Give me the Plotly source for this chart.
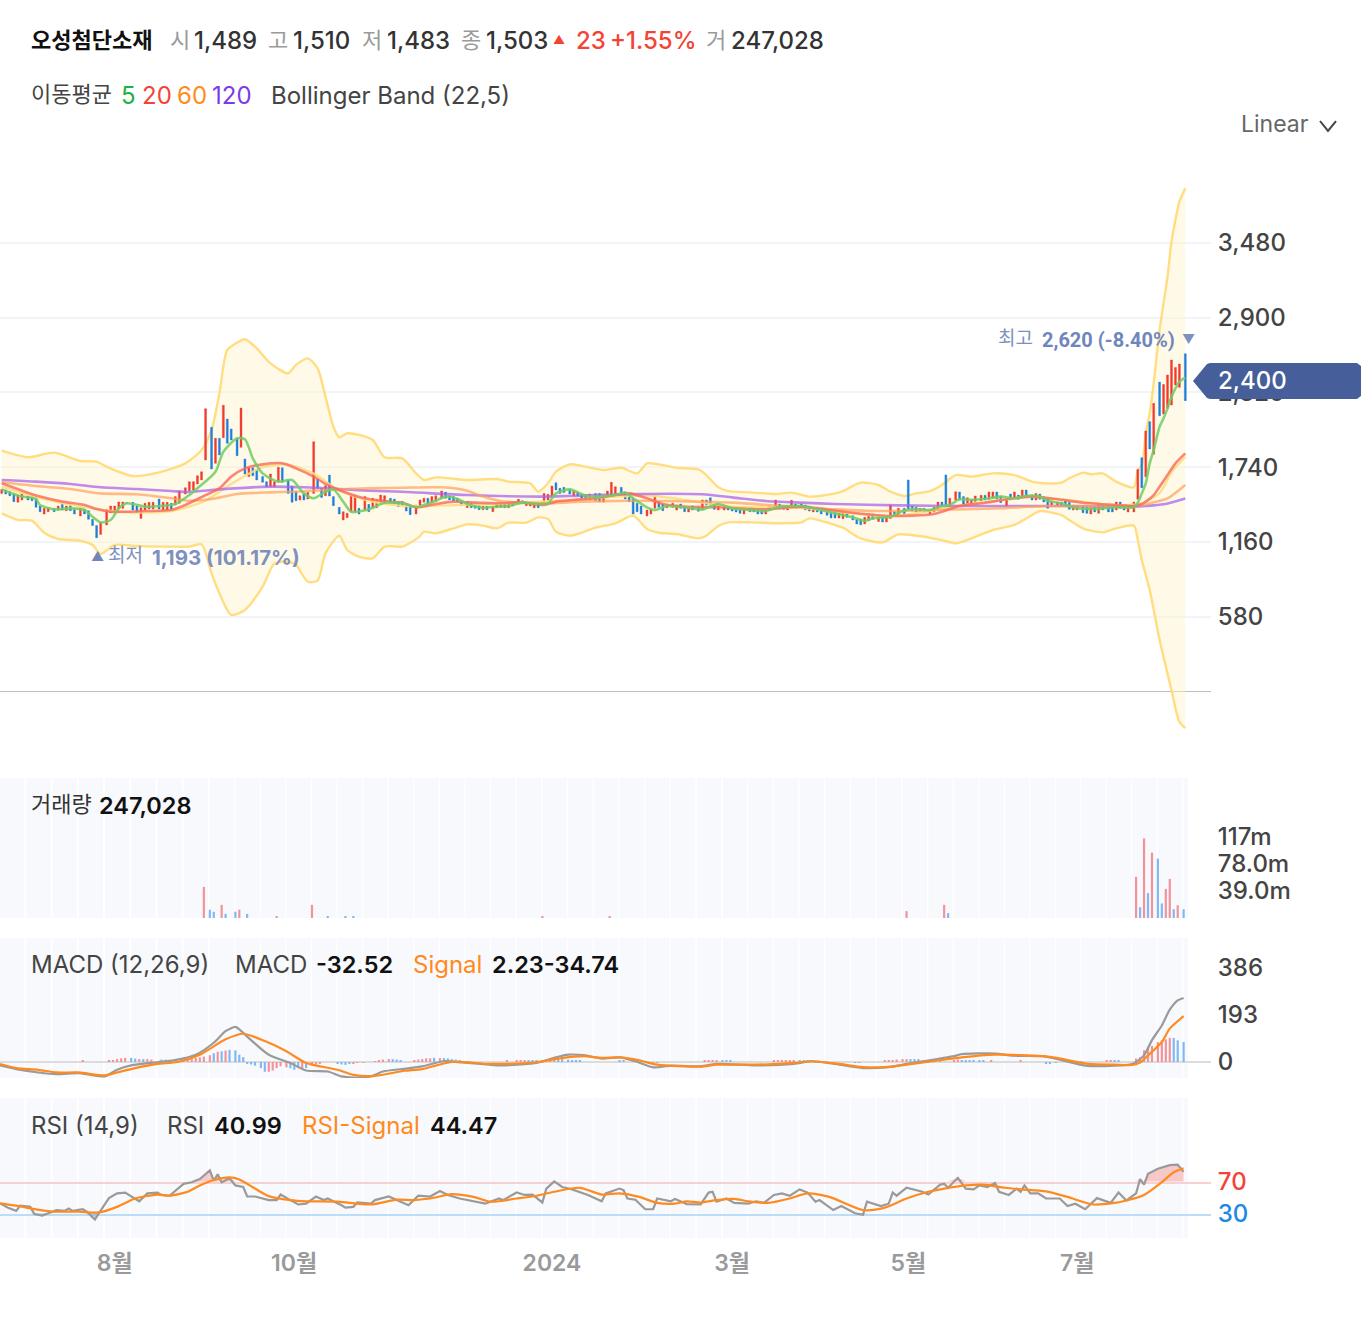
import numpy as np
import plotly.graph_objects as go

W, H = 1366, 1324
PLOT_R = 1211
FONT = "Inter, 'Noto Sans CJK KR', sans-serif"

# ---------- candles (price) ----------
opens = [1537,1563,1550,1532,1468,1486, 1519,1519,1499,1439,1377,1395, 1421,1408,1452,1403,1444,1413,
 1362,1413,1403,1336,1287,1219, 1292,1387,1395,1416,1421,1465, 1468,1439,1343,1408,1416,1416,
 1493,1408,1408,1460,1447,1460, 1532,1558,1563,1610,1641,1796, 2049,1770,1964,1969,2114,2036,
 1964,1894,1804,1667,1736,1718, 1667,1628,1589,1589,1628,1736, 1641,1594,1550,1486,1537,1493,
 1537,1648,1576,1519,1679,1512, 1429,1331,1349,1395,1395,1421, 1408,1452,1426,1426,1460,1460,
 1499,1493,1473,1475,1447,1429, 1377,1442,1468,1499,1465,1475, 1499,1548,1519,1512,1499,1480,
 1426,1460,1455,1442,1411,1437, 1395,1426,1429,1455,1426,1470, 1455,1480,1442,1439,1426,1465,
 1455,1486,1512,1620,1576,1584, 1568,1519,1548,1532,1527,1486, 1537,1537,1470,1512,1524,1537,
 1584,1548,1512,1499,1460,1439, 1362,1377,1421,1473,1455,1426, 1429,1408,1455,1429,1393,1439,
 1429,1408,1486,1504,1447,1408, 1408,1429,1421,1418,1408,1377, 1421,1418,1408,1408,1377,1408,
 1421,1455,1442,1408,1439,1455, 1455,1447,1439,1393,1429,1408, 1403,1387,1393,1346,1341,1377,
 1364,1336,1336,1300,1325,1377, 1318,1351,1315,1343,1395,1369, 1421,1641,1439,1429,1395,1421,
 1377,1393,1408,1470,1680,1434, 1486,1548,1512,1460,1455,1475, 1480,1522,1491,1501,1548,1517,
 1439,1532,1499,1524,1512,1563, 1524,1486,1532,1512,1499,1445, 1445,1470,1480,1468,1408,1408,
 1439,1429,1377,1429,1382,1447, 1426,1429,1408,1470,1439,1393, 1393,
 1491,1814,1666,2093,1840,2400,2152,2196,2222,2377,2359,2620]
closes = [1568,1532,1519,1473,1524,1537, 1486,1480,1429,1395,1421,1426, 1395,1439,1408,1439,1403,1377,
 1421,1377,1336,1287,1193,1312, 1413,1439,1439,1470,1470,1462, 1408,1387,1426,1460,1468,1468,
 1416,1468,1468,1416,1512,1555, 1581,1628,1628,1674,1705,2194, 1726,1964,1835,2220,1925,1951,
 1829,2199,1687,1736,1674,1641, 1623,1589,1687,1628,1739,1623, 1537,1468,1480,1519,1486,1545,
 1938,1576,1506,1597,1517,1442, 1377,1395,1382,1524,1524,1377, 1512,1395,1499,1486,1524,1519,
 1460,1455,1434,1440,1400,1372, 1447,1486,1499,1455,1512,1519, 1555,1499,1486,1478,1473,1442,
 1473,1426,1421,1411,1437,1411, 1434,1455,1455,1426,1455,1439, 1491,1455,1473,1468,1465,1426,
 1537,1530,1594,1563,1537,1543, 1532,1555,1517,1501,1486,1532, 1480,1473,1522,1555,1623,1589,
 1537,1493,1473,1377,1395,1377, 1408,1416,1519,1429,1403,1447, 1460,1447,1421,1395,1421,1408,
 1398,1486,1447,1447,1413,1455, 1429,1408,1400,1393,1382,1408, 1395,1393,1377,1377,1408,1439,
 1486,1418,1413,1437,1483,1421, 1434,1408,1400,1429,1393,1377, 1367,1346,1346,1382,1382,1351,
 1331,1300,1294,1351,1377,1336, 1351,1315,1351,1447,1364,1421, 1377,1416,1400,1393,1421,1390,
 1408,1429,1470,1434,1429,1499, 1550,1486,1455,1504,1491,1517, 1522,1486,1548,1548,1496,1465,
 1496,1486,1548,1491,1563,1504, 1486,1537,1491,1470,1421,1473, 1470,1439,1439,1413,1444,1439,
 1387,1382,1426,1393,1460,1408, 1393,1393,1470,1421,1408,1447, 1470,
 1723,1581,2021,1881,2235,2139,2382,2455,2571,2514,2540,2256]

# ---------- overlays: index of each reading, and the reading ----------
bbu_i = [0,6,12,18,22,24,30,36,42,46,48,50,52,54,56,59,62,66,68,71,73,75,77,78,80,83,86,89,93,96,98,101,108,115,118,123,125,127,129,132,136,140,144,148,150,153,157,162,164,167,169,174,180,184,188,191,194,196,200,204,207,210,213,216,219,222,226,231,236,240,243,247,249,252,254,257,260,264,265,266,267,268,269,270,271,272,273,274,275,276]
bbu = [1868,1817,1853,1788,1783,1744,1672,1700,1770,1873,2028,2313,2649,2706,2732,2662,2545,2468,2533,2584,2507,2287,2054,1972,2003,1990,1951,1817,1809,1692,1641,1661,1641,1648,1628,1615,1550,1615,1705,1762,1744,1718,1736,1692,1770,1762,1736,1723,1679,1584,1555,1545,1532,1543,1512,1519,1537,1555,1620,1602,1550,1517,1537,1555,1602,1679,1667,1692,1679,1628,1615,1620,1654,1698,1685,1692,1628,1584,1718,1757,2002,2158,2390,2804,3011,3217,3489,3657,3799,3902]
bbl_i = [0,4,7,10,13,18,21,23,26,31,36,40,43,46,48,50,53,56,60,63,66,68,71,73,75,78,80,83,86,89,93,94,97,98,101,105,108,112,115,118,122,125,127,129,132,135,138,143,147,150,153,157,162,164,167,169,174,181,186,188,194,196,200,205,209,215,219,222,226,231,236,240,242,247,249,252,254,257,260,264,265,266,268,270,273,275,276]
bbl = [1382,1331,1325,1232,1183,1170,1137,1067,1137,1129,1124,1124,1124,1142,917,762,594,633,814,994,1007,982,852,860,1072,1209,1098,1046,1033,1124,1124,1137,1206,1240,1227,1266,1297,1287,1266,1310,1310,1351,1338,1240,1209,1232,1271,1305,1364,1261,1232,1222,1188,1209,1284,1312,1312,1305,1312,1343,1292,1271,1188,1157,1219,1201,1175,1150,1188,1253,1292,1369,1400,1369,1331,1266,1248,1235,1266,1287,1175,1020,788,401,13,-235,-282]
mid_i = [0,9,19,29,39,47,53,60,66,72,78,85,93,110,130,150,170,186,207,223,240,260,266,270,273,276]
mid = [1590,1500,1430,1390,1400,1480,1610,1740,1760,1690,1560,1480,1440,1450,1480,1520,1435,1425,1360,1440,1510,1445,1460,1540,1700,1821]
ma5_i = [0,3,5,8,9,12,16,19,21,23,25,27,29,33,36,39,40,43,45,49,51,54,56,58,60,64,67,70,72,75,77,79,81,85,89,93,94,96,98,101,103,106,108,112,115,118,121,125,127,129,132,134,136,139,143,145,147,150,152,155,159,163,167,170,174,178,181,186,188,191,194,198,201,203,207,209,212,216,219,221,223,226,230,233,236,239,242,244,247,251,255,260,264,265,266,267,268,269,270,271,272,273,274,275,276]
ma5 = [1568,1532,1512,1493,1447,1413,1421,1408,1356,1312,1331,1421,1460,1434,1439,1447,1455,1524,1576,1705,1860,1964,1956,1809,1692,1628,1641,1537,1499,1550,1568,1473,1395,1413,1465,1460,1455,1429,1447,1480,1512,1493,1455,1426,1434,1439,1465,1455,1460,1537,1568,1545,1519,1512,1524,1543,1499,1429,1408,1439,1429,1413,1455,1421,1408,1400,1434,1439,1429,1408,1382,1351,1325,1343,1356,1387,1416,1408,1439,1447,1491,1486,1499,1512,1499,1519,1512,1480,1460,1421,1416,1429,1429,1465,1537,1615,1770,1873,2054,2119,2196,2287,2351,2403,2434]
ma20_i = [0,5,9,14,19,22,25,29,33,39,42,47,50,53,56,60,65,68,72,75,78,82,85,90,93,96,101,105,108,116,120,126,129,133,138,142,146,150,154,159,167,174,178,186,190,198,207,217,223,229,236,240,246,252,260,264,266,267,269,270,272,274,276]
ma20 = [1615,1558,1512,1473,1447,1416,1395,1395,1400,1408,1447,1524,1576,1667,1731,1762,1770,1731,1667,1610,1563,1519,1493,1473,1465,1429,1455,1473,1468,1460,1468,1447,1473,1486,1499,1519,1537,1499,1455,1434,1429,1416,1413,1434,1421,1387,1362,1377,1439,1465,1499,1512,1491,1465,1447,1439,1455,1472,1524,1589,1679,1770,1847]
ma60_i = [0,8,16,23,31,39,43,48,54,62,67,72,78,85,93,102,108,112,116,126,135,147,155,170,186,194,205,217,232,244,264,267,269,272,276]
ma60 = [1623,1594,1571,1537,1530,1499,1480,1493,1532,1545,1550,1558,1568,1576,1581,1584,1558,1512,1478,1460,1473,1480,1478,1465,1429,1413,1400,1408,1421,1439,1439,1450,1468,1498,1602]
ma120_i = [0,8,16,23,31,39,43,50,62,70,78,85,93,108,126,132,147,163,170,178,186,194,209,225,248,264,267,271,276]
ma120 = [1641,1628,1610,1584,1571,1555,1548,1568,1589,1584,1571,1558,1550,1524,1512,1517,1532,1530,1506,1478,1465,1455,1444,1439,1439,1434,1439,1452,1498]

# ---------- volume, in millions ----------
vol_up_i = [47,51,55,72,64,126,142,211,220,265,267,269,272,273,275]
vol_up = [45,19,12,19,1.5,1.5,1.5,10,19,59.5,115,94.5,42,56.5,18.5]
vol_dn_i = [48,49,52,54,57,76,80,82,221,266,268,270,271,274,276]
vol_dn = [12,9,6,9,6,2,2,2,7,15.6,36,85.8,21,12.7,12.7]

# ---------- MACD ----------
macd_i = [0,4,9,13,18,21,24,27,30,36,40,45,49,52,54,55,58,62,67,71,76,79,82,86,89,94,98,103,107,112,116,121,125,129,132,136,140,144,148,152,156,163,167,176,185,189,194,201,207,211,216,222,224,232,236,243,247,253,260,264,265,267,269,271,273,275,276]
macd = [-14,-29,-43,-50,-46,-53,-59,-32,-14,-1,7,30,79,127,144,134,90,30,-4,-35,-39,-59,-64,-59,-39,-28,-18,3,-1,-8,-14,-10,-4,17,30,28,14,19,3,-22,-15,-18,-8,-14,-8,3,-7,-25,-21,-8,6,24,32,35,26,24,10,-15,-15,-8,0,27,90,150,215,253,263]
sig_i = [0,4,9,13,18,24,27,31,36,41,46,52,56,61,66,71,78,82,87,94,98,105,114,125,130,136,140,144,149,153,163,167,176,185,189,195,201,206,211,217,224,232,238,245,254,260,264,266,268,271,273,276]
sig = [-8,-25,-32,-43,-43,-55,-43,-25,-8,0,30,93,116,86,44,-4,-32,-53,-57,-36,-29,0,-8,-1,14,24,17,19,7,-11,-19,-11,-11,-4,3,-7,-21,-21,-11,3,19,30,28,21,-8,-11,-12,-2,27,82,137,188]
hist_up_i = [19,25,26,27,28,29,32,34,35,41,42,43,44,45,46,47,48,50,52,87,88,89,90,96,97,98,99,100,102,118,120,121,122,127,128,129,164,165,166,167,180,181,182,183,184,185,206,207,208,209,210,211,219,222,223,231,238,251,252,258,259,265,266,267,268,269,270,271,272,273]
hist_up = [5,5,8,12,15,17,12,12,10,3,10,12,14,17,19,22,28,42,47,3,5,10,12,5,10,12,15,15,16,6,5,5,5,6,8,10,6,6,6,5,5,5,5,5,5,5,5,5,5,10,12,12,5,6,10,5,5,3,3,6,6,14,20,48,62,66,82,89,93,99]
hist_dn_i = [30,31,33,37,38,39,49,51,53,54,55,56,101,103,104,105,106,107,91,92,93,123,124,125,126,130,131,132,133,134,135,144,145,168,169,170,186,187,188,189,190,212,213,214,224,225,226,227,228,229,260,261,274,275,276]
hist_dn = [17,14,12,10,10,8,36,44,50,48,30,20,17,16,15,12,10,8,12,10,8,5,5,5,6,12,12,10,8,6,5,6,6,5,5,5,5,6,6,5,4,12,12,12,8,6,5,5,5,5,5,5,99,89,82]
hist_neg_up_i = [62,63,64,65,66,70,72,73,74,82,83,84,152,153]
hist_neg_up = [-40,-35,-25,-18,-22,-28,-15,-10,-5,-5,-4,-3,-5,-3]
hist_neg_dn_i = [57,58,59,60,61,67,68,69,71,78,79,80,81,151,199,200,244,245,246]
hist_neg_dn = [-5,-10,-15,-25,-40,-26,-32,-25,-25,-5,-10,-12,-8,-8,-4,-4,-5,-5,-4]

# ---------- RSI ----------
rsi_i = [0,2,4,5,7,8,10,12,13,15,16,17,19,20,22,23,25,27,29,32,34,36,37,39,42,44,46,48,49,50,51,53,54,56,57,59,62,64,65,67,69,71,73,75,76,79,80,82,83,86,87,90,93,95,97,100,102,104,107,110,113,116,117,120,122,124,126,127,129,131,133,137,140,141,144,145,146,148,150,152,153,156,157,160,163,165,166,167,169,171,174,176,178,180,182,184,186,188,190,191,194,196,199,201,202,205,207,208,209,210,211,215,216,219,220,221,223,225,227,228,230,232,233,235,237,238,239,240,242,244,247,249,251,253,255,256,259,261,263,265,266,267,268,270,273,275,276]
rsi = [42.4,37,33,39.5,38,29,27,32,34,33,36,33,35,32,22,30,49,55,56,45,55,56,53,52,67,69,73,84,71,79,69,74,65,63,51,51,46.5,46.5,53.5,46.5,41,42,51,46.5,48.5,40,37,38,43.5,42,46.5,51,45,40,52,51,58,53,48.5,45,42,48.5,46.5,56,53,53.5,43.5,61,70,63,60,53,45,55,61,59,48.5,47,35,35,48.5,45,48,41.5,41,56,57,44.5,48.5,43,42,45,43,53,55,52,60,56,44.5,46.5,34,39,30,28,44.5,39,42,56,52,58,62,57,53.5,66,67,62,74.5,61,60,65,63,68,57,53,61,57,65,55,55,48.5,48.5,39,42,35,44.5,49,43,56,46,55,73,66,79.5,86,90.5,91,82]
rsig_i = [0,4,7,12,18,23,27,31,36,39,43,46,50,53,55,59,62,67,71,78,86,92,96,101,105,110,114,120,125,129,135,140,144,149,153,157,160,163,167,171,174,179,184,188,193,201,206,211,216,220,225,229,234,238,244,249,255,260,263,267,271,274,276]
rsig = [42.4,39.5,36,32,32,31,38,48.5,53.5,52,57,65,73,75,72.5,61,51.5,46.5,45,44.5,41,47,46.5,49.5,54,50.5,44.5,48.5,52,57,62,53.5,55,50.5,43,42,45,43.5,46.5,48,45,43,48.5,55,50.5,34,37,48.5,57,61,65,66,62,60,57.5,50.5,41,43,46,53,69,81.5,86.5]

# ---------- labels ----------
price_ticks = [580,1160,1740,2320,2900,3480]
price_text = ["580","1,160","1,740","2,320","2,900","3,480"]
vol_ticks = [39,78,117]
vol_text = ["39.0m","78.0m","117m"]
macd_ticks = [0,193,386]
macd_text = ["0","193","386"]
rsi_ticks = [30,70]
rsi_text = ["<span style='color:#1E88E5'>30</span>", "<span style='color:#F44336'>70</span>"]
month_i = [26,67.5,128,170,211,251]
month_text = ["8월","10월","2024","3월","5월","7월"]

# ---------- x layout: six bars, then a small gap, with a slow drift seen in the picture ----------
GAP = 0.487
UNIT = 3.9665
drift_i = [0,48,72,126,211,220,265,276]
drift_px = [0,4,3.2,2,2,2,0,0]
def P(i):
    i = np.asarray(i, dtype=float)
    return i + GAP * (i // 6) + np.interp(i, drift_i, drift_px) / UNIT
n = len(opens)
idx = np.arange(n)
xr = [-1.7 / UNIT, (PLOT_R - 1.7) / UNIT]
LOW = -0.43  # lower panels sit a little left of the candles

def dom(top, bottom):
    return [1 - bottom / H, 1 - top / H]

fig = go.Figure()
def line(xa, ya, xs, ys, color, width=2, shape="spline", shift=0.0, **kw):
    fig.add_trace(go.Scatter(x=P(xs) + shift, y=ys, mode="lines", xaxis=xa, yaxis=ya,
                             line=dict(color=color, width=width, shape=shape, smoothing=0.7),
                             hoverinfo="skip", showlegend=False, **kw))

# main pane: band on the base axis, candles and averages on an overlaid twin so the band fill stays behind them
line("x", "y", bbu_i, bbu, "#FFDD80", 2.4)
line("x", "y", bbl_i, bbl, "#FFDD80", 2.4, fill="tonexty", fillcolor="rgba(255,243,205,0.45)")
highs = [max(a, b) for a, b in zip(opens, closes)]
lows = [min(a, b) for a, b in zip(opens, closes)]
fig.add_trace(go.Candlestick(x=P(idx), open=opens, high=highs, low=lows, close=closes, xaxis="x", yaxis="y5",
    increasing=dict(line=dict(color="#F03B2E", width=0.4), fillcolor="#F03B2E"),
    decreasing=dict(line=dict(color="#1E7FD8", width=0.4), fillcolor="#1E7FD8"),
    hoverinfo="skip", showlegend=False))
line("x", "y5", mid_i, mid, "rgba(255,221,128,0.9)", 2.4)
line("x", "y5", ma120_i, ma120, "rgba(170,100,235,0.75)", 2.6)
line("x", "y5", ma60_i, ma60, "rgba(255,160,90,0.7)", 2.6)
line("x", "y5", ma20_i, ma20, "rgba(248,105,90,0.8)", 2.6)
line("x", "y5", ma5_i, ma5, "rgba(110,205,100,0.85)", 2.6)

# bars
def bars(xa, ya, xs, ys, color):
    fig.add_trace(go.Bar(x=P(xs) + LOW, y=ys, width=0.55, marker=dict(color=color, line=dict(width=0)),
                         xaxis=xa, yaxis=ya, hoverinfo="skip", showlegend=False))
RED, BLUE = "#F4929A", "#82B8F2"
bars("x2", "y2", vol_up_i, vol_up, RED)
bars("x2", "y2", vol_dn_i, vol_dn, BLUE)
bars("x3", "y3", hist_up_i, hist_up, RED)
bars("x3", "y3", hist_dn_i, hist_dn, BLUE)
bars("x3", "y3", hist_neg_up_i, hist_neg_up, RED)
bars("x3", "y3", hist_neg_dn_i, hist_neg_dn, BLUE)
line("x3", "y3", macd_i, macd, "#9A9A9A", 2.2, shift=LOW)
line("x3", "y3", sig_i, sig, "#FF8A1E", 2.2, shift=LOW)

# RSI fills
rx = P(rsi_i) + LOW
fig.add_trace(go.Scatter(x=rx, y=[70] * len(rx), mode="lines", line=dict(width=0), xaxis="x4", yaxis="y4",
                         hoverinfo="skip", showlegend=False))
fig.add_trace(go.Scatter(x=rx, y=np.maximum(rsi, 70), mode="lines", line=dict(width=0), xaxis="x4", yaxis="y4",
                         fill="tonexty", fillcolor="rgba(244,90,80,0.3)", hoverinfo="skip", showlegend=False))
fig.add_trace(go.Scatter(x=rx, y=[30] * len(rx), mode="lines", line=dict(width=0), xaxis="x4", yaxis="y4",
                         hoverinfo="skip", showlegend=False))
fig.add_trace(go.Scatter(x=rx, y=np.minimum(rsi, 30), mode="lines", line=dict(width=0), xaxis="x4", yaxis="y4",
                         fill="tonexty", fillcolor="rgba(60,150,240,0.3)", hoverinfo="skip", showlegend=False))
line("x4", "y4", rsi_i, rsi, "#9A9A9A", 2.2, shape="linear", shift=LOW)
line("x4", "y4", rsig_i, rsig, "#FF8A1E", 2.2, shift=LOW)

# panes: stripes
shapes = []
last_edge = float(P(n - 1)) + 0.69
for g in range(0, n, 6):
    x0 = float(P(g)) - 0.43
    x1 = min(x0 + 6.15, last_edge)
    for ya in ("y2", "y3", "y4"):
        shapes.append(dict(type="rect", layer="below", xref="x", yref=f"{ya} domain", x0=x0, x1=x1, y0=0, y1=1,
                           fillcolor="#F7F9FD", line=dict(width=0)))

# reference lines
def px_line(y, color, width):
    shapes.append(dict(type="line", xref="paper", yref="paper", x0=0, x1=PLOT_R / W, y0=1 - y / H, y1=1 - y / H,
                       line=dict(color=color, width=width), layer="below"))
px_line(1183, "#F9D0D0", 2)
px_line(1215, "#BBDDF8", 2)

# current-price pill and chevron
def pth(points):
    return "M" + " L".join(f"{x / W:.5f},{1 - y / H:.5f}" for x, y in points)
shapes.append(dict(type="path", layer="above", xref="paper", yref="paper",
                   path=pth([(1193, 381), (1207, 364), (1210, 363), (1357, 363), (1361, 366), (1361, 396), (1357, 399), (1210, 399), (1207, 398)]) + " Z",
                   fillcolor="#465F9A", line=dict(width=0)))
shapes.append(dict(type="path", layer="above", xref="paper", yref="paper",
                   path=pth([(1320, 121), (1328, 131), (1336, 121)]),
                   line=dict(color="#444444", width=2)))

# text
ann = []
def T(x, y, s, color="#444444", size=24, weight=400, family=FONT):
    ann.append(dict(xref="paper", yref="paper", x=x / W, y=1 - y / H, text=s, showarrow=False,
                    xanchor="left", yanchor="middle", borderpad=0,
                    font=dict(family=family, size=size, color=color, weight=weight)))
KR = 22
T(30, 40, "오성첨단소재", "#111111", KR, 700)
T(169, 40, "시", "#9A9A9A", KR)
T(193, 41, "1,489", "#333333", 24, 500)
T(267, 40, "고", "#9A9A9A", KR)
T(292, 41, "1,510", "#333333", 24, 500)
T(361, 40, "저", "#9A9A9A", KR)
T(386, 41, "1,483", "#333333", 24, 500)
T(460, 40, "종", "#9A9A9A", KR)
T(485, 41, "1,503", "#333333", 24, 500)
T(552, 40, "▲", "#F44336", 12)
T(575, 41, "23", "#F44336", 24, 500)
T(609, 41, "+1.55%", "#F44336", 24, 500)
T(705, 40, "거", "#9A9A9A", KR)
T(730, 41, "247,028", "#333333", 24, 500)
T(30, 94, "이동평균", "#444444", KR)
T(120, 95, "5", "#1FB141", 24)
T(141, 95, "20", "#F44336", 24)
T(176, 95, "60", "#FF8C1A", 24)
T(211, 95, "120", "#7C3AED", 24)
T(270, 95, "Bollinger Band (22,5)", "#444444", 24)
T(1240, 124, "Linear", "#666666", 23)
T(30, 804, "거래량", "#333333", KR)
T(98, 805, "247,028", "#111111", 23.5, 600)
T(30, 965, "MACD (12,26,9)", "#444444", 24)
T(234, 965, "MACD", "#444444", 24)
T(315, 965, "-32.52", "#111111", 23.5, 600)
T(412, 965, "Signal", "#FF8A1E", 24)
T(491, 965, "2.23-34.74", "#111111", 23.5, 600)
T(30, 1125, "RSI (14,9)", "#444444", 24)
T(166, 1125, "RSI", "#444444", 24)
T(213, 1125, "40.99", "#111111", 23.5, 600)
T(301, 1125, "RSI-Signal", "#FF8A1E", 24)
T(429, 1125, "44.47", "#111111", 23.5, 600)
T(1217, 381, "2,400", "#FFFFFF", 24, 500)
T(90, 556, "▲", "#6F86BC", 13)
T(107, 556, "최저", "#7E90BE", 19)
T(151, 557, "1,193 (101.17%)", "#7E90BE", 20.5, 700)
T(997, 339, "최고", "#7E90BE", 19)
T(1041, 340, "2,620 (-8.40%)", "#6F86BC", 20, 700, "Roboto")
T(1181, 339, "▼", "#7E90BE", 13)

AXF = dict(family=FONT, size=24, color="#444444", weight=500)
def xa(**kw):
    d = dict(domain=[0, PLOT_R / W], range=xr, showgrid=False, zeroline=False, showticklabels=False,
             ticks="", showline=False, fixedrange=True)
    d.update(kw)
    return d
def ya(top, bottom, rng, tv, tt, xaxis, **kw):
    d = dict(domain=dom(top, bottom), range=rng, side="right", anchor=xaxis, tickmode="array", tickvals=tv, ticktext=tt,
             ticks="outside", ticklen=1, tickcolor="rgba(0,0,0,0)", tickfont=AXF, showgrid=False, zeroline=False,
             showline=False, fixedrange=True)
    d.update(kw)
    return d

ppu = 74.8 / 580
main_range = [-(770 - 691.6) / ppu, (691.6 - 150) / ppu]
layout = dict(
    width=W, height=H, autosize=False, margin=dict(l=0, r=0, t=0, b=0),
    paper_bgcolor="#FFFFFF", plot_bgcolor="rgba(0,0,0,0)", showlegend=False, barmode="overlay", dragmode=False,
    xaxis=xa(anchor="y", rangeslider=dict(visible=False)),
    yaxis=ya(150, 770, main_range, price_ticks, price_text, "x",
             showgrid=True, gridcolor="#F1F4F8", gridwidth=2, zeroline=True, zerolinecolor="#BDBDBD", zerolinewidth=1),
    yaxis5=dict(domain=dom(150, 770), range=main_range, overlaying="y", anchor="x", side="right", visible=False,
                showgrid=False, zeroline=False, fixedrange=True),
    xaxis2=xa(anchor="y2"),
    yaxis2=ya(778, 918, [0, 140 / 0.6923], vol_ticks, vol_text, "x2"),
    xaxis3=xa(anchor="y3"),
    yaxis3=ya(938, 1078, [-16 / 0.2435, 124 / 0.2435], macd_ticks, macd_text, "x3",
              zeroline=True, zerolinecolor="#DCDCDC", zerolinewidth=2),
    xaxis4=xa(anchor="y4", showticklabels=True, tickmode="array", tickvals=P(month_i).tolist(), ticktext=month_text,
              ticks="outside", ticklen=4, tickcolor="rgba(0,0,0,0)",
              tickfont=dict(family=FONT, size=23, color="#9A9A9A", weight=600)),
    yaxis4=ya(1098, 1238, [-1.2, 175], rsi_ticks, rsi_text, "x4"),
    shapes=shapes, annotations=ann,
)
fig.update_layout(**layout)
fig.write_html("out.html", config={"displayModeBar": False}, post_script="document.body.style.margin='0';")
